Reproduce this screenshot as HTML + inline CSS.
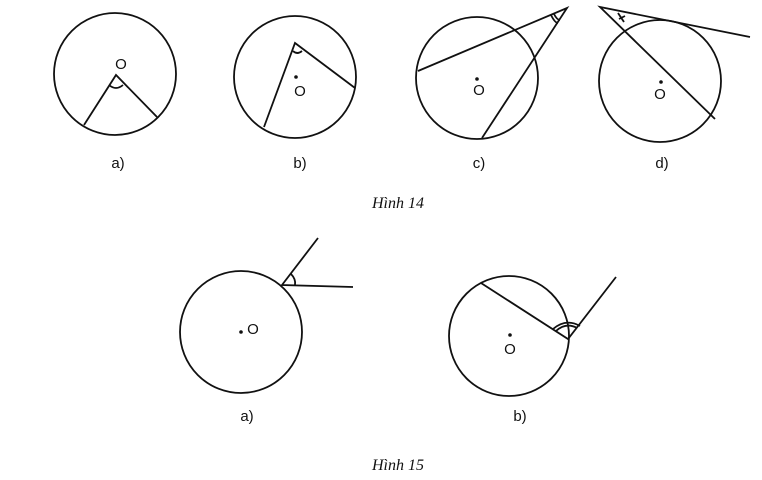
<!DOCTYPE html>
<html><head><meta charset="utf-8"><style>
html,body{margin:0;padding:0;background:#fff;}
svg{display:block}
text{font-family:"Liberation Sans",sans-serif;font-size:15px;fill:#111;}
.cap{font-family:"Liberation Serif",serif;font-style:italic;font-size:16px;}
</style></head><body>
<svg width="762" height="480" viewBox="0 0 762 480" xmlns="http://www.w3.org/2000/svg">
<g fill="none" stroke="#111" stroke-width="1.8">
<!-- 14a -->
<circle cx="115" cy="74" r="61"/>
<polyline points="84,125 116,75 157,117"/>
<path d="M109,85 Q116,91 123,85"/>
<!-- 14b -->
<circle cx="295" cy="77" r="61"/>
<polyline points="264,127 295,43 355,88"/>
<path d="M293,51 Q297,55 302,51"/>
<!-- 14c -->
<circle cx="477" cy="78" r="61"/>
<polyline points="418,71 567,8 482,138"/>
<path d="M554,14 Q557,20 560,20"/><path d="M551,15 Q555,23 558,23"/>
<!-- 14d -->
<circle cx="660" cy="81" r="61"/>
<polyline points="750,37 600,7 715,119"/>
<path d="M618,13 L624,22 M619,19 L625,16"/>
<!-- 15a -->
<circle cx="241" cy="332" r="61"/>
<polyline points="318,238 282,285 353,287"/>
<path d="M291,274 Q296,279 295,285"/>
<!-- 15b -->
<circle cx="509" cy="336" r="60"/>
<polyline points="481,283 568,339 616,277"/>
<path d="M556,331 Q566,322 577,328"/><path d="M553,329 Q566,318 580,326"/>
</g>
<g fill="#111">
<circle cx="296" cy="77" r="1.8"/>
<circle cx="477" cy="79" r="1.8"/>
<circle cx="661" cy="82" r="1.8"/>
<circle cx="241" cy="332" r="1.8"/>
<circle cx="510" cy="335" r="1.8"/>
</g>
<text x="121" y="69" text-anchor="middle" font-size="16">O</text>
<text x="300" y="96" text-anchor="middle" font-size="16">O</text>
<text x="479" y="95" text-anchor="middle" font-size="16">O</text>
<text x="660" y="99" text-anchor="middle" font-size="16">O</text>
<text x="253" y="334" text-anchor="middle" font-size="16">O</text>
<text x="510" y="354" text-anchor="middle" font-size="16">O</text>
<text x="118" y="168" text-anchor="middle">a)</text>
<text x="300" y="168" text-anchor="middle">b)</text>
<text x="479" y="168" text-anchor="middle">c)</text>
<text x="662" y="168" text-anchor="middle">d)</text>
<text x="247" y="421" text-anchor="middle">a)</text>
<text x="520" y="421" text-anchor="middle">b)</text>
<text class="cap" x="398" y="208" text-anchor="middle">Hình 14</text>
<text class="cap" x="398" y="470" text-anchor="middle">Hình 15</text>
</svg>
</body></html>
